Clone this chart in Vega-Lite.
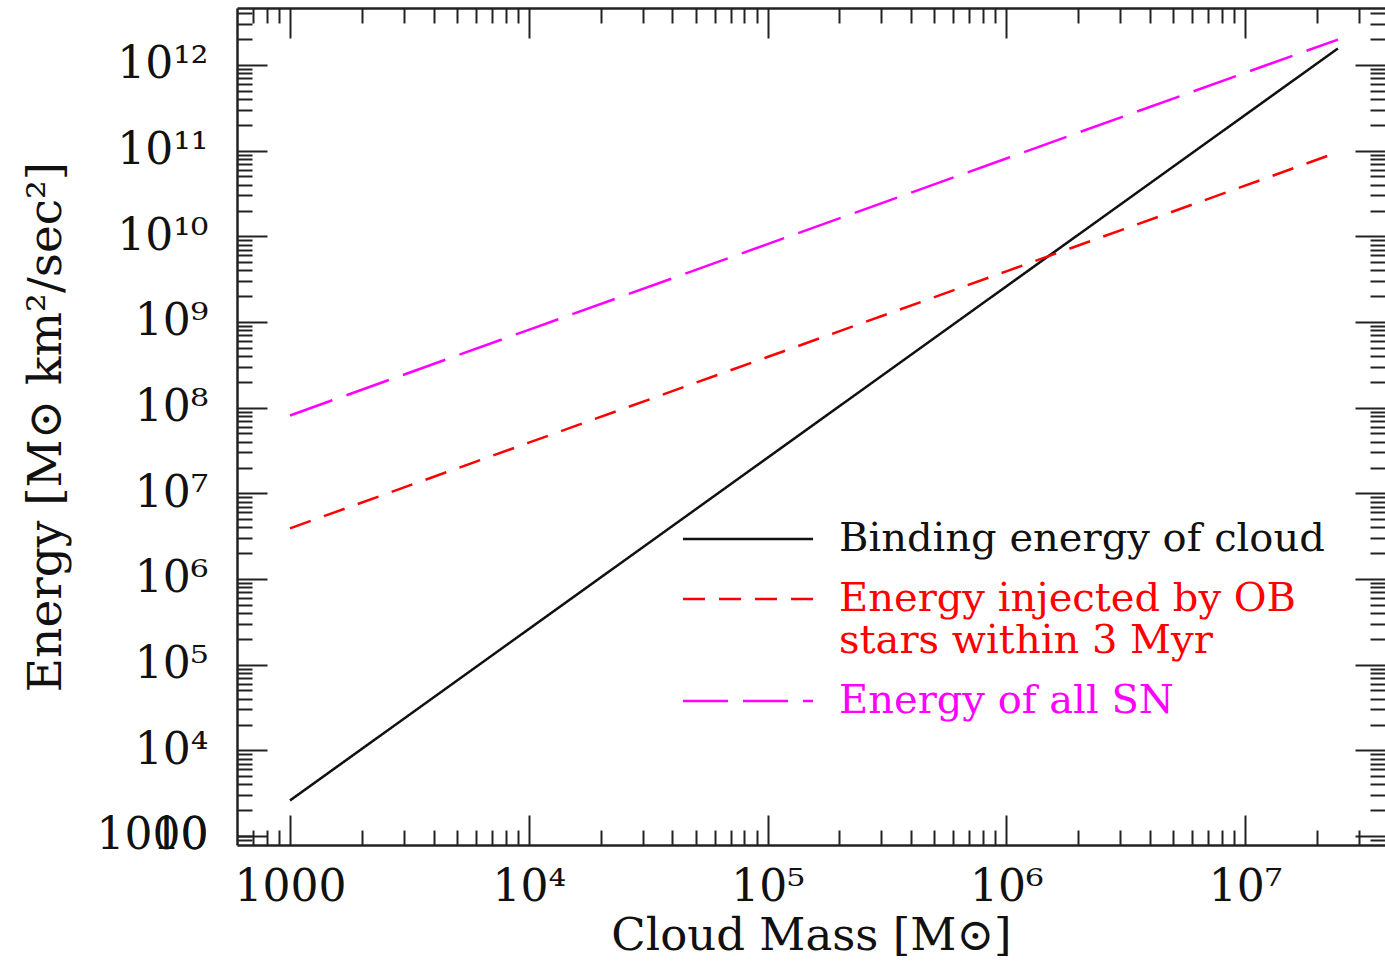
{
  "$schema": "https://vega.github.io/schema/vega-lite/v6.json",
  "width": 1148,
  "height": 837,
  "autosize": {"type": "none"},
  "padding": {"left": 237, "top": 8, "right": 0, "bottom": 120},
  "background": "white",
  "config": {
    "view": {"stroke": null},
    "font": "DejaVu Serif",
    "axis": {
      "grid": false,
      "domainColor": "#222222",
      "tickColor": "#222222",
      "domainWidth": 2.5,
      "tickWidth": 2,
      "labelFont": "DejaVu Serif",
      "labelFontSize": 44,
      "labelColor": "#111111",
      "titleFont": "DejaVu Serif",
      "titleFontSize": 45,
      "titleFontWeight": "normal",
      "titleColor": "#111111",
      "labelOverlap": false,
      "labelFlush": false,
      "labelBound": false
    }
  },
  "datasets": {
    "energies": [
      {"series": "Binding energy of cloud", "mass": 1000, "energy": 2600},
      {"series": "Binding energy of cloud", "mass": 10000, "energy": 260000},
      {"series": "Binding energy of cloud", "mass": 100000, "energy": 2.6e7},
      {"series": "Binding energy of cloud", "mass": 1000000, "energy": 2.6e9},
      {"series": "Binding energy of cloud", "mass": 10000000, "energy": 2.6e11},
      {"series": "Binding energy of cloud", "mass": 2.45e7, "energy": 1.56e12},
      {"series": "Energy injected by OB stars within 3 Myr", "mass": 1000, "energy": 3.9e6},
      {"series": "Energy injected by OB stars within 3 Myr", "mass": 10000, "energy": 3.9e7},
      {"series": "Energy injected by OB stars within 3 Myr", "mass": 100000, "energy": 3.9e8},
      {"series": "Energy injected by OB stars within 3 Myr", "mass": 1000000, "energy": 3.9e9},
      {"series": "Energy injected by OB stars within 3 Myr", "mass": 10000000, "energy": 3.9e10},
      {"series": "Energy injected by OB stars within 3 Myr", "mass": 2.45e7, "energy": 9.6e10},
      {"series": "Energy of all SN", "mass": 1000, "energy": 8.1e7},
      {"series": "Energy of all SN", "mass": 10000, "energy": 8.1e8},
      {"series": "Energy of all SN", "mass": 100000, "energy": 8.1e9},
      {"series": "Energy of all SN", "mass": 1000000, "energy": 8.1e10},
      {"series": "Energy of all SN", "mass": 10000000, "energy": 8.1e11},
      {"series": "Energy of all SN", "mass": 2.45e7, "energy": 1.98e12}
    ]
  },
  "data": {"name": "energies"},
  "layer": [
    {
      "mark": {"type": "line", "strokeWidth": 2.5},
      "encoding": {
        "x": {
          "field": "mass", "type": "quantitative",
          "scale": {"type": "log", "domain": [599.8, 3.858e7], "nice": false},
          "axis": {
            "orient": "bottom",
            "values": [1000, 10000, 100000, 1000000, 10000000],
            "labelExpr": "['','','','1000','10⁴','10⁵','10⁶','10⁷'][round(log(datum.value)/LN10)]",
            "tickSize": -30,
            "labelPadding": 50,
            "title": "Cloud Mass [M⊙]",
            "titlePadding": 4
          }
        },
        "y": {
          "field": "energy", "type": "quantitative",
          "scale": {"type": "log", "domain": [785, 4.624e12], "nice": false},
          "axis": {
            "orient": "left",
            "values": [1000, 10000, 100000, 1000000, 10000000, 100000000, 1000000000, 10000000000, 100000000000, 1000000000000],
            "labelExpr": "['','','','1000','10⁴','10⁵','10⁶','10⁷','10⁸','10⁹','10¹⁰','10¹¹','10¹²'][round(log(datum.value)/LN10)]",
            "tickSize": -30,
            "labelPadding": 59,
            "title": "Energy [M⊙ km²/sec²]",
            "titleFontSize": 47,
            "titlePadding": 26
          }
        },
        "color": {
          "field": "series", "type": "nominal",
          "scale": {
            "domain": ["Binding energy of cloud", "Energy injected by OB stars within 3 Myr", "Energy of all SN"],
            "range": ["#111111", "#ff0000", "#ff00ff"]
          },
          "legend": {
            "orient": "none", "legendX": 491, "legendY": 511,
            "title": null, "padding": 0,
            "symbolType": "M-6.5,0H6.5", "symbolSize": 400, "symbolStrokeWidth": 2.5,
            "labelFont": "DejaVu Serif", "labelFontSize": 40, "labelOffset": 71, "labelLimit": 0,
            "rowPadding": 20,
            "labelExpr": "datum.label == 'Energy injected by OB stars within 3 Myr' ? ['Energy injected by OB', 'stars within 3 Myr'] : datum.label",
            "encode": {"labels": {"update": {"fill": {"scale": "color", "field": "value"}}}}
          }
        },
        "strokeDash": {
          "field": "series", "type": "nominal",
          "scale": {
            "domain": ["Binding energy of cloud", "Energy injected by OB stars within 3 Myr", "Energy of all SN"],
            "range": [[1, 0], [22, 14], [45, 15]]
          },
          "legend": {
            "orient": "none", "legendX": 491, "legendY": 511,
            "title": null, "padding": 0,
            "symbolType": "M-6.5,0H6.5", "symbolSize": 400, "symbolStrokeWidth": 2.5,
            "labelFont": "DejaVu Serif", "labelFontSize": 40, "labelOffset": 71, "labelLimit": 0,
            "rowPadding": 20,
            "labelExpr": "datum.label == 'Energy injected by OB stars within 3 Myr' ? ['Energy injected by OB', 'stars within 3 Myr'] : datum.label",
            "encode": {"labels": {"update": {"fill": {"scale": "color", "field": "value"}}}}
          }
        }
      }
    },
    {
      "mark": {"type": "point", "opacity": 0},
      "encoding": {
        "x": {
          "field": "mass", "type": "quantitative",
          "scale": {"type": "log", "domain": [599.8, 3.858e7], "nice": false},
          "axis": {
            "orient": "bottom", "domain": false, "labels": false, "title": null, "tickSize": -15,
            "values": [700, 800, 900, 2000, 3000, 4000, 5000, 6000, 7000, 8000, 9000, 20000, 30000, 40000, 50000, 60000, 70000, 80000, 90000, 200000, 300000, 400000, 500000, 600000, 700000, 800000, 900000, 2000000, 3000000, 4000000, 5000000, 6000000, 7000000, 8000000, 9000000, 20000000, 30000000]
          }
        },
        "y": {
          "field": "energy", "type": "quantitative",
          "scale": {"type": "log", "domain": [785, 4.624e12], "nice": false},
          "axis": {
            "orient": "left", "domain": false, "title": null, "tickSize": -15, "labelPadding": 44,
            "labelExpr": "datum.value == 1000 ? '10' : ''",
            "values": [900, 1000, 2000, 3000, 4000, 5000, 6000, 7000, 8000, 9000, 2e4, 3e4, 4e4, 5e4, 6e4, 7e4, 8e4, 9e4, 2e5, 3e5, 4e5, 5e5, 6e5, 7e5, 8e5, 9e5, 2e6, 3e6, 4e6, 5e6, 6e6, 7e6, 8e6, 9e6, 2e7, 3e7, 4e7, 5e7, 6e7, 7e7, 8e7, 9e7, 2e8, 3e8, 4e8, 5e8, 6e8, 7e8, 8e8, 9e8, 2e9, 3e9, 4e9, 5e9, 6e9, 7e9, 8e9, 9e9, 2e10, 3e10, 4e10, 5e10, 6e10, 7e10, 8e10, 9e10, 2e11, 3e11, 4e11, 5e11, 6e11, 7e11, 8e11, 9e11, 2e12, 3e12, 4e12]
          }
        }
      }
    },
    {
      "mark": {"type": "point", "opacity": 0},
      "encoding": {
        "x": {
          "field": "mass", "type": "quantitative",
          "scale": {"type": "log", "domain": [599.8, 3.858e7], "nice": false},
          "axis": {
            "orient": "top", "labels": false, "title": null, "tickSize": -30,
            "values": [1000, 10000, 100000, 1000000, 10000000]
          }
        },
        "y": {
          "field": "energy", "type": "quantitative",
          "scale": {"type": "log", "domain": [785, 4.624e12], "nice": false},
          "axis": {
            "orient": "right", "domain": false, "labels": false, "title": null, "tickSize": -30,
            "values": [1000, 10000, 100000, 1000000, 10000000, 100000000, 1000000000, 10000000000, 100000000000, 1000000000000]
          }
        }
      }
    },
    {
      "mark": {"type": "point", "opacity": 0},
      "encoding": {
        "x": {
          "field": "mass", "type": "quantitative",
          "scale": {"type": "log", "domain": [599.8, 3.858e7], "nice": false},
          "axis": {
            "orient": "top", "domain": false, "labels": false, "title": null, "tickSize": -15,
            "values": [700, 800, 900, 2000, 3000, 4000, 5000, 6000, 7000, 8000, 9000, 20000, 30000, 40000, 50000, 60000, 70000, 80000, 90000, 200000, 300000, 400000, 500000, 600000, 700000, 800000, 900000, 2000000, 3000000, 4000000, 5000000, 6000000, 7000000, 8000000, 9000000, 20000000, 30000000]
          }
        },
        "y": {
          "field": "energy", "type": "quantitative",
          "scale": {"type": "log", "domain": [785, 4.624e12], "nice": false},
          "axis": {
            "orient": "right", "domain": false, "labels": false, "title": null, "tickSize": -15,
            "values": [900, 2000, 3000, 4000, 5000, 6000, 7000, 8000, 9000, 2e4, 3e4, 4e4, 5e4, 6e4, 7e4, 8e4, 9e4, 2e5, 3e5, 4e5, 5e5, 6e5, 7e5, 8e5, 9e5, 2e6, 3e6, 4e6, 5e6, 6e6, 7e6, 8e6, 9e6, 2e7, 3e7, 4e7, 5e7, 6e7, 7e7, 8e7, 9e7, 2e8, 3e8, 4e8, 5e8, 6e8, 7e8, 8e8, 9e8, 2e9, 3e9, 4e9, 5e9, 6e9, 7e9, 8e9, 9e9, 2e10, 3e10, 4e10, 5e10, 6e10, 7e10, 8e10, 9e10, 2e11, 3e11, 4e11, 5e11, 6e11, 7e11, 8e11, 9e11, 2e12, 3e12, 4e12]
          }
        }
      }
    }
  ],
  "resolve": {"axis": {"x": "independent", "y": "independent"}}
}
